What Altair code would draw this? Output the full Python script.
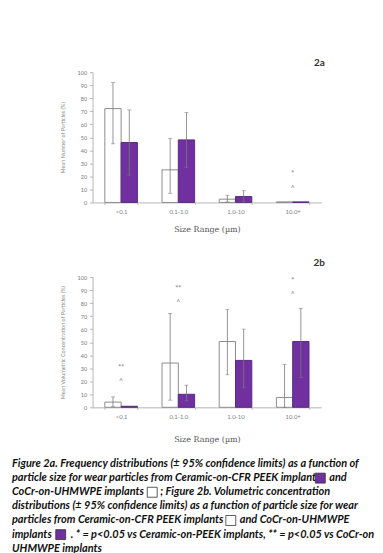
import altair as alt
import pandas as pd

# ---------------- data ----------------
sizes = ["<0.1", "0.1-1.0", "1.0-10", "10.0+"]
series = ["white", "purple"]
y_ticks = list(range(0, 101, 10))

# Figure 2a: mean number of particles (%) with 95% confidence limits
a_white_mean = [72, 25, 2.5, 0.4]
a_white_lo = [45, 7, 0.3, None]
a_white_hi = [92, 49, 5.5, None]
a_purple_mean = [46, 48, 4.5, 0.4]
a_purple_lo = [21, 27, 0.5, None]
a_purple_hi = [71, 69, 9.0, None]
a_sig_size = ["10.0+", "10.0+"]
a_sig_y = [22, 10]
a_sig_text = ["*", "^"]

# Figure 2b: mean volumetric concentration of particles (%)
b_white_mean = [4, 34, 50.5, 7.5]
b_white_lo = [0.5, 5.5, 25, 0]
b_white_hi = [8, 72, 75, 33]
b_purple_mean = [0.8, 10, 36, 50.5]
b_purple_lo = [None, 5, 15, 23]
b_purple_hi = [None, 17, 60, 76]
b_sig_size = ["<0.1", "<0.1", "0.1-1.0", "0.1-1.0", "10.0+", "10.0+"]
b_sig_y = [30.5, 19.5, 91, 80, 97, 86]
b_sig_text = ["**", "^", "**", "^", "*", "^"]

caption_l1 = "Figure 2a. Frequency distributions (\u00b1 95% confidence limits) as a function of"
caption_l2a = "particle size for wear particles from Ceramic-on-CFR PEEK implants"
caption_l2b = "and"
caption_l3a = "CoCr-on-UHMWPE implants"
caption_l3b = "; Figure 2b. Volumetric concentration"
caption_l4 = "distributions (\u00b1 95% confidence limits) as a function of particle size for wear"
caption_l5a = "particles from Ceramic-on-CFR PEEK implants"
caption_l5b = "and CoCr-on-UHMWPE"
caption_l6a = "implants"
caption_l6b = ". * = p<0.05 vs Ceramic-on-PEEK implants, ** = p<0.05 vs CoCr-on"
caption_l7 = "UHMWPE implants"

PURPLE = "#7030a0"
W, H = 230, 131


def panel(wm, wl, wh, pm, pl, ph, sig_size, sig_y, sig_text, ytitle, tag, title_pad, tag_y):
    df = pd.DataFrame({
        "size": sizes + sizes,
        "series": ["white"] * 4 + ["purple"] * 4,
        "mean": wm + pm,
        "lo": wl + pl,
        "hi": wh + ph,
    })
    sig = pd.DataFrame({"size": sig_size, "y": sig_y, "label": sig_text})
    tagdf = pd.DataFrame({"t": [tag]})

    xaxis = alt.Axis(title="Size Range (\u00b5m)", labelAngle=0, tickBand="extent",
                     titlePadding=title_pad)
    xscale = alt.Scale(paddingInner=0.43, paddingOuter=0.215)
    x = alt.X("size:N", sort=sizes, scale=xscale, axis=xaxis)
    xo = alt.XOffset("series:N", sort=series, scale=alt.Scale(paddingInner=0, paddingOuter=0))
    yscale = alt.Scale(domain=[0, 100], nice=False)
    yaxis = alt.Axis(title=ytitle, values=y_ticks)

    base = alt.Chart(df)
    bars = base.mark_bar(strokeWidth=1).encode(
        x=x, xOffset=xo,
        y=alt.Y("mean:Q", scale=yscale, axis=yaxis),
        fill=alt.Fill("series:N", scale=alt.Scale(domain=series, range=["#ffffff", PURPLE]), legend=None),
        stroke=alt.Stroke("series:N", scale=alt.Scale(domain=series, range=["#8c8c8c", "#5a2a80"]), legend=None),
    )
    err = base.transform_filter("isValid(datum.lo)")
    rules = err.mark_rule(color="#7a7a7a", strokeWidth=0.8).encode(
        x=x, xOffset=xo, y=alt.Y("lo:Q", scale=yscale, axis=yaxis), y2="hi:Q")
    cap_lo = err.mark_tick(orient="horizontal", size=4, thickness=0.8, color="#7a7a7a").encode(
        x=x, xOffset=xo, y=alt.Y("lo:Q", scale=yscale, axis=yaxis))
    cap_hi = err.mark_tick(orient="horizontal", size=4, thickness=0.8, color="#7a7a7a").encode(
        x=x, xOffset=xo, y=alt.Y("hi:Q", scale=yscale, axis=yaxis))
    sigs = alt.Chart(sig).mark_text(fontSize=7, color="#7a7a7a", font="Lato", baseline="middle").encode(
        x=alt.X("size:N", sort=sizes, scale=xscale, axis=xaxis),
        y=alt.Y("y:Q", scale=yscale, axis=yaxis),
        text="label:N")
    tag_t = alt.Chart(tagdf).mark_text(fontSize=10, fontWeight="bold", color="#333333",
                                       font="Lato", baseline="middle").encode(
        x=alt.value(228), y=alt.value(tag_y), text="t:N")
    return alt.layer(bars, rules, cap_lo, cap_hi, sigs, tag_t).properties(width=W, height=H)


chart_a = panel(a_white_mean, a_white_lo, a_white_hi, a_purple_mean, a_purple_lo, a_purple_hi,
                a_sig_size, a_sig_y, a_sig_text, "Mean Number of Particles (%)", "2a", 11, -9)
chart_b = panel(b_white_mean, b_white_lo, b_white_hi, b_purple_mean, b_purple_lo, b_purple_hi,
                b_sig_size, b_sig_y, b_sig_text, "Mean Volumetric Concentration of Particles (%)",
                "2b", 16, -14)

# ---------------- caption ----------------
cap_style = dict(font="Lato", fontSize=11, fontStyle="italic", fontWeight="bold",
                 color="#111111", align="left", baseline="middle")
LX = -81
LH = 14.2
L0 = -18


def cap_text(txt, line, xpos):
    return alt.Chart(pd.DataFrame({"t": [txt]})).mark_text(**cap_style).encode(
        x=alt.value(xpos), y=alt.value(L0 + line * LH), text="t:N")


def swatch(line, xpos, fill, stroke):
    yc = L0 + line * LH
    return alt.Chart(pd.DataFrame({"t": [0]})).mark_rect(fill=fill, stroke=stroke, strokeWidth=0.8).encode(
        x=alt.value(xpos), x2=alt.value(xpos + 10), y=alt.value(yc - 5), y2=alt.value(yc + 5))


caption = alt.layer(
    cap_text(caption_l1, 0, LX),
    cap_text(caption_l2a, 1, LX), swatch(1, 224, PURPLE, "#333333"), cap_text(caption_l2b, 1, 238),
    cap_text(caption_l3a, 2, LX), swatch(2, 55, "#ffffff", "#333333"), cap_text(caption_l3b, 2, 68),
    cap_text(caption_l4, 3, LX),
    cap_text(caption_l5a, 4, LX), swatch(4, 134, "#ffffff", "#333333"), cap_text(caption_l5b, 4, 148),
    cap_text(caption_l6a, 5, LX), swatch(5, -37, PURPLE, "#333333"), cap_text(caption_l6b, 5, -22),
    cap_text(caption_l7, 6, LX),
).properties(width=W, height=60)

chart = alt.vconcat(chart_a, chart_b, caption, spacing=75, bounds="flush").properties(
    padding={"left": 4, "top": 49, "right": 0, "bottom": 0}
).configure_view(stroke=None).configure_axisY(
    domainColor="#b5b5b5", tickColor="#b5b5b5", tickSize=3, labelPadding=3,
    labelFont="Lato", labelFontSize=5.5, labelColor="#777777",
    titleFont="Lato", titleFontSize=5.5, titleColor="#888888", titleFontWeight="normal",
    titlePadding=12, grid=False,
).configure_axisX(
    domainColor="#b5b5b5", tickColor="#b5b5b5", tickSize=2, labelPadding=4,
    labelFont="Lato", labelFontSize=6, labelColor="#808080",
    titleFont="DejaVu Serif", titleFontSize=8, titleColor="#555555", titleFontWeight="normal",
    grid=False,
)

chart.save("out.html", embed_options={"renderer": "svg", "actions": False})
